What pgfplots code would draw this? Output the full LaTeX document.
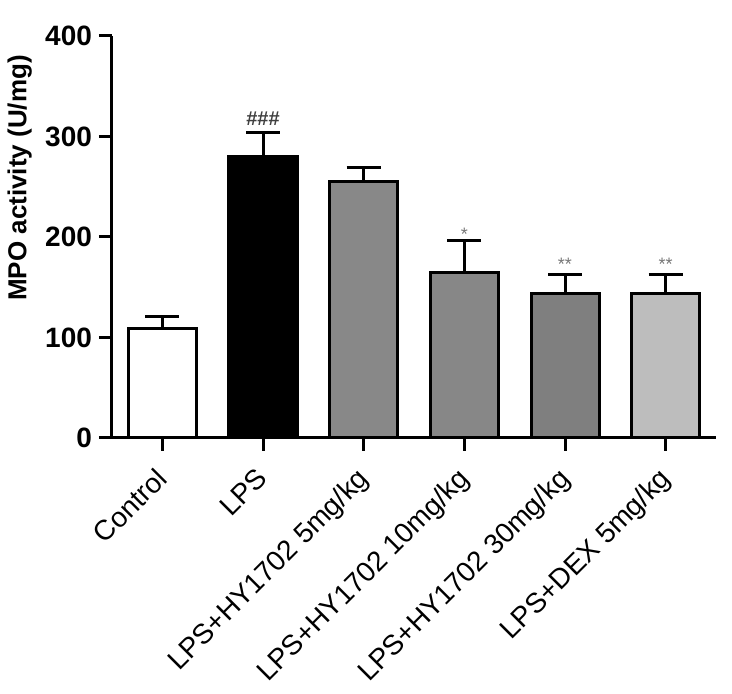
\documentclass[border=0pt]{standalone}
\usepackage{fontspec}
\setmainfont{Liberation Sans}
\usepackage{pgfplots}
\pgfplotsset{compat=1.18}
\definecolor{ctrlfill}{HTML}{FFFFFF}
\definecolor{lpsfill}{HTML}{000000}
\definecolor{hyA}{HTML}{888888}
\definecolor{hyB}{HTML}{878787}
\definecolor{hyC}{HTML}{7F7F7F}
\definecolor{dexfill}{HTML}{BDBDBD}
\definecolor{starcol}{HTML}{777777}
\begin{document}
\begin{tikzpicture}
\useasboundingbox (-56pt,-128pt) rectangle (310pt,219pt);
\begin{axis}[
    at={(0,0)}, anchor=south west,
    scale only axis, width=302pt, height=201pt,
    xmin=-0.5, xmax=5.5, ymin=0, ymax=400,
    axis x line*=bottom, axis y line*=left,
    axis line style={line width=1.5pt, black},
    tick align=outside,
    major tick length=6.5pt,
    every tick/.style={line width=1.5pt, black},
    ytick={0,100,200,300,400},
    xtick={0,1,2,3,4,5},
    xticklabels={Control, LPS, LPS+HY1702 5mg/kg, LPS+HY1702 10mg/kg, LPS+HY1702 30mg/kg, LPS+DEX 5mg/kg},
    /pgf/number format/assume math mode=true,
    yticklabel style={font=\fontsize{14}{16}\selectfont\bfseries},
    xticklabel style={font=\fontsize{14}{16}\selectfont, xshift=-4pt, yshift=-6pt, rotate=45, anchor=north east, inner sep=1pt},
    ylabel={MPO activity (U/mg)},
    every axis y label/.style={at={(axis description cs:-0.153,0.647)}, rotate=90, anchor=center, font=\fontsize{13}{15}\selectfont\bfseries},
    ybar, bar width=34pt,
    error bars/y dir=plus,
    error bars/y explicit,
    error bars/error bar style={line width=1.5pt, black},
    error bars/error mark options={rotate=90, mark size=8.5pt, line width=1.5pt, black},
]
\addplot[bar shift=0pt, draw=black, line width=1.5pt, fill=ctrlfill] coordinates {(0,109) +- (0,12)};
\addplot[bar shift=0pt, draw=black, line width=1.5pt, fill=lpsfill] coordinates {(1,280) +- (0,24)};
\addplot[bar shift=0pt, draw=black, line width=1.5pt, fill=hyA] coordinates {(2,255) +- (0,14)};
\addplot[bar shift=0pt, draw=black, line width=1.5pt, fill=hyB] coordinates {(3,165) +- (0,32)};
\addplot[bar shift=0pt, draw=black, line width=1.5pt, fill=hyC] coordinates {(4,144) +- (0,19)};
\addplot[bar shift=0pt, draw=black, line width=1.5pt, fill=dexfill] coordinates {(5,144) +- (0,19)};
\node[font=\fontsize{10}{10}\selectfont\bfseries, text=black!75] at (axis cs:1,318) {\#\#\#};
\node[font=\fontsize{9}{9}\selectfont, text=starcol] at (axis cs:3,203) {*};
\node[font=\fontsize{9}{9}\selectfont, text=starcol] at (axis cs:4,173) {**};
\node[font=\fontsize{9}{9}\selectfont, text=starcol] at (axis cs:5,173) {**};
\end{axis}
\end{tikzpicture}
\end{document}
